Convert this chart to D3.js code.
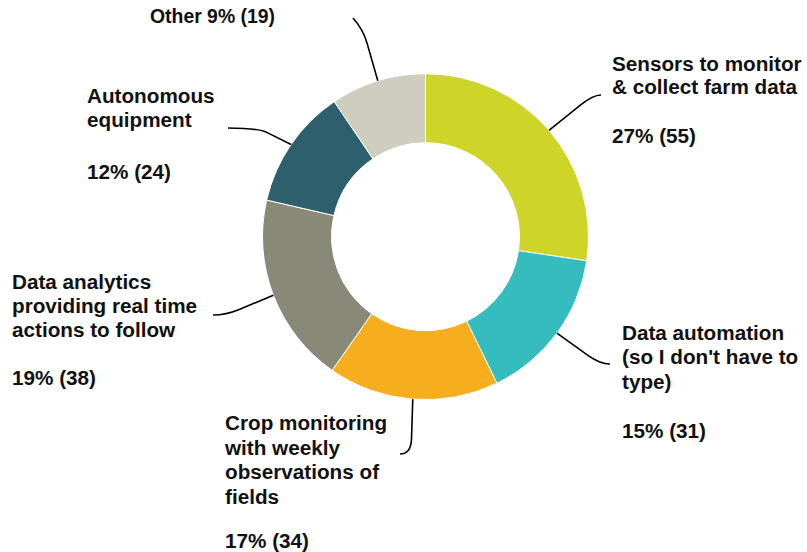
<!DOCTYPE html>
<html>
<head>
<meta charset="utf-8">
<script src="https://cdn.jsdelivr.net/npm/d3@7"></script>
<style>
  html, body { margin: 0; padding: 0; background: #fff; }
  svg { display: block; }
  text { font-family: "Liberation Sans", Arial, sans-serif; font-weight: bold; fill: #111; }
</style>
</head>
<body>
<svg id="chart" width="807" height="552"></svg>
<script>
// Survey responses by technology interest
const categories = [
  "Sensors to monitor & collect farm data",
  "Data automation (so I don't have to type)",
  "Crop monitoring with weekly observations of fields",
  "Data analytics providing real time actions to follow",
  "Autonomous equipment",
  "Other"
];
const counts = [55, 31, 34, 38, 24, 19];
const percents = [27, 15, 17, 19, 12, 9];
const labelLines = [
  ["Sensors to monitor", "& collect farm data"],
  ["Data automation", "(so I don't have to", "type)"],
  ["Crop monitoring", "with weekly", "observations of", "fields"],
  ["Data analytics", "providing real time", "actions to follow"],
  ["Autonomous", "equipment"],
  []
];
const colors = ["#CED428", "#35BCBF", "#F6AE1F", "#898978", "#2E5F6C", "#CFCDBE"];

const svg = d3.select("#chart");
const cx = 425.5, cy = 236.7;
const outerR = 163, innerR = 94;

const pie = d3.pie().value(d => d).sort(null);
const arcs = pie(counts);
const arc = d3.arc().innerRadius(innerR).outerRadius(outerR);

const g = svg.append("g").attr("transform", `translate(${cx},${cy})`);
g.selectAll("path.slice")
  .data(arcs)
  .join("path")
  .attr("class", "slice")
  .attr("d", arc)
  .attr("fill", (d, i) => colors[i])
  .attr("stroke", "#fff")
  .attr("stroke-width", 1);

// Label placement: text anchor, line baselines, leader-line knee and end
const layout = [
  { x: 612, y: 70.5, lh: 23.5, vy: 143, knee: [593, 95], end: [601, 95] },
  { x: 622, y: 339.5, lh: 24.5, vy: 438, knee: [600, 364], end: [610, 364] },
  { x: 225, y: 430, lh: 24.5, vy: 548, knee: [411, 454], end: [400, 454] },
  { x: 12, y: 289, lh: 24, vy: 385, knee: [226, 315], end: [213, 315] },
  { x: 87, y: 102.5, lh: 24, vy: 179, knee: [258, 128], end: [228, 128] },
  { x: 150, y: 22.5, lh: 24, vy: null, knee: [363, 29], end: [353, 18] }
];

// Leader lines start on the outer rim at each slice's mid angle
arcs.forEach((a, i) => {
  const mid = (a.startAngle + a.endAngle) / 2;
  const s = [cx + outerR * Math.sin(mid), cy - outerR * Math.cos(mid)];
  const L = layout[i];
  const k = L.knee, e = L.end;
  const t = 0.72;
  const p1 = [s[0] + (k[0] - s[0]) * t, s[1] + (k[1] - s[1]) * t];
  const path = d3.path();
  path.moveTo(s[0], s[1]);
  path.lineTo(p1[0], p1[1]);
  path.quadraticCurveTo(k[0], k[1], e[0], e[1]);
  svg.append("path")
    .attr("d", path.toString())
    .attr("fill", "none")
    .attr("stroke", "#000")
    .attr("stroke-width", 1.6);
});

// Text labels
arcs.forEach((a, i) => {
  const L = layout[i];
  const valueText = `${percents[i]}% (${counts[i]})`;
  if (labelLines[i].length === 0) {
    svg.append("text")
      .attr("x", L.x).attr("y", L.y)
      .style("font-size", "19.4px")
      .text(`${categories[i]} ${valueText}`);
    return;
  }
  const t = svg.append("text").style("font-size", "20.7px");
  labelLines[i].forEach((line, j) => {
    t.append("tspan").attr("x", L.x).attr("y", L.y + j * L.lh).text(line);
  });
  svg.append("text")
    .attr("x", L.x).attr("y", L.vy)
    .style("font-size", "20.7px")
    .text(valueText);
});
</script>
</body>
</html>
